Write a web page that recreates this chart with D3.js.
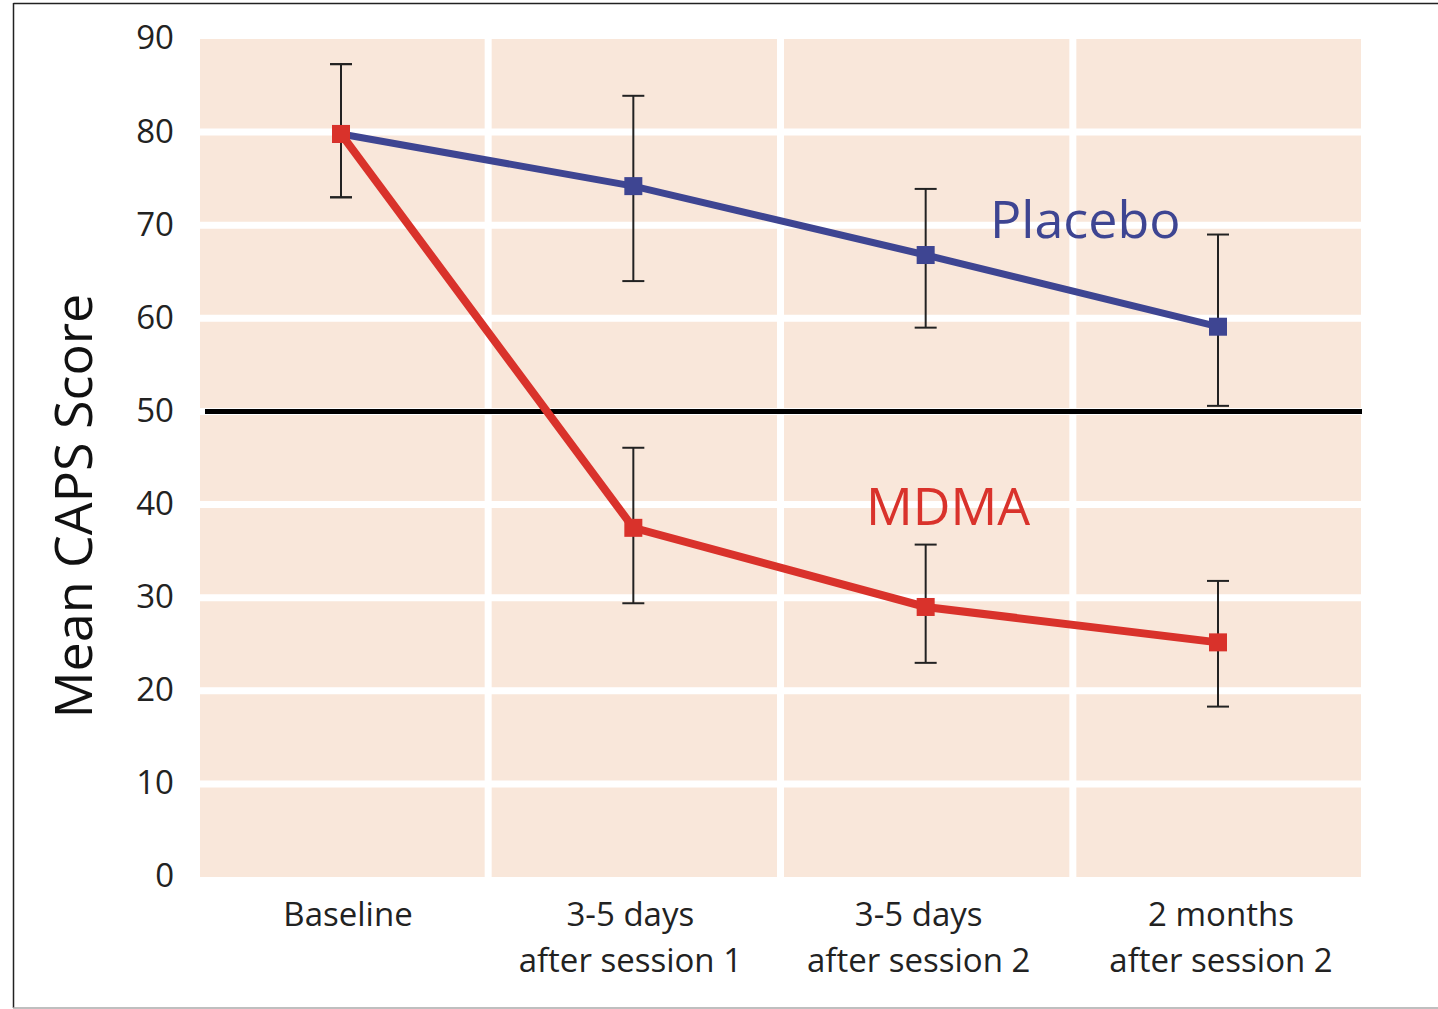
<!DOCTYPE html>
<html><head><meta charset="utf-8">
<script src="https://cdn.jsdelivr.net/npm/d3@7"></script>
<style>body{margin:0;background:#fff;} svg{display:block;}</style>
</head><body>
<svg id="c" width="1438" height="1009"></svg>
<script>
const categories = ["Baseline", "3-5 days|after session 1", "3-5 days|after session 2", "2 months|after session 2"];
const placebo = [79.8, 74.2, 66.8, 59.1];
const placeboHi = [87.3, 83.9, 73.9, 69.0];
const placeboLo = [73.0, 64.0, 59.0, 50.6];
const mdma = [79.8, 37.5, 29.0, 25.2];
const mdmaHi = [87.3, 46.1, 35.7, 31.8];
const mdmaLo = [73.0, 29.4, 23.0, 18.3];
const yTicks = [0, 10, 20, 30, 40, 50, 60, 70, 80, 90];
const threshold = 50;

const svg = d3.select("#c");
const font = "'Open Sans', 'Noto Sans', sans-serif";
const plotL = 200, plotR = 1361, plotT = 39, plotB = 877;

// frame
svg.append("line").attr("x1", 13.5).attr("x2", 1438).attr("y1", 3.5).attr("y2", 3.5).attr("stroke", "#222").attr("stroke-width", 1.5);
svg.append("line").attr("x1", 13.5).attr("x2", 13.5).attr("y1", 3).attr("y2", 1008).attr("stroke", "#222").attr("stroke-width", 1.5);
svg.append("line").attr("x1", 13).attr("x2", 1438).attr("y1", 1008).attr("y2", 1008).attr("stroke", "#aaa").attr("stroke-width", 1.5);

const y = d3.scaleLinear().domain([0, 90]).range([plotB, plotT]);
const x = d3.scalePoint().domain(categories).range([341, 1218]);
const step = x.step();

// background
svg.append("rect").attr("x", plotL).attr("y", plotT).attr("width", plotR - plotL).attr("height", plotB - plotT).attr("fill", "#f9e7da");

// horizontal white gridlines
svg.append("g").selectAll("line").data(yTicks.filter(t => t > 0 && t < 90)).join("line")
  .attr("x1", plotL).attr("x2", plotR).attr("y1", d => y(d)).attr("y2", d => y(d))
  .attr("stroke", "#fff").attr("stroke-width", 7);
// vertical separators
svg.append("g").selectAll("line").data(categories.slice(1)).join("line")
  .attr("x1", d => x(d) - step / 2 + 1).attr("x2", d => x(d) - step / 2 + 1)
  .attr("y1", plotT).attr("y2", plotB)
  .attr("stroke", "#fff").attr("stroke-width", 7);

// y axis labels
const yAxis = d3.axisLeft(y).tickValues(yTicks).tickSize(0).tickPadding(0);
const ya = svg.append("g").attr("transform", "translate(174,0)").call(yAxis);
ya.select(".domain").remove();
ya.selectAll("text").attr("font-family", font).attr("font-size", 33).attr("fill", "#222").attr("dy", "0.3em");

// y title
svg.append("text").attr("transform", "translate(92,506) rotate(-90)").attr("text-anchor", "middle")
  .attr("font-family", font).attr("font-size", 52).attr("fill", "#111").text("Mean CAPS Score");

// x labels
const labelShift = [7, -3, -7, 3];
const xl = svg.append("g").selectAll("text").data(categories).join("text")
  .attr("text-anchor", "middle").attr("font-family", font).attr("font-size", 33).attr("fill", "#222")
  .attr("transform", (d, i) => `translate(${x(d) + labelShift[i]},0)`);
xl.each(function(d) {
  const parts = d.split("|");
  const t = d3.select(this);
  parts.forEach((p, j) => t.append("tspan").attr("x", 0).attr("y", 926 + j * 46).text(p));
});

// threshold line
svg.append("line").attr("x1", 205).attr("x2", 1362).attr("y1", y(threshold)).attr("y2", y(threshold))
  .attr("stroke", "#000").attr("stroke-width", 5);

function errorBars(hi, lo) {
  const g = svg.append("g").attr("stroke", "#222").attr("stroke-width", 2);
  categories.forEach((c, i) => {
    g.append("line").attr("x1", x(c)).attr("x2", x(c)).attr("y1", y(hi[i])).attr("y2", y(lo[i]));
    g.append("line").attr("x1", x(c) - 11).attr("x2", x(c) + 11).attr("y1", y(hi[i])).attr("y2", y(hi[i]));
    g.append("line").attr("x1", x(c) - 11).attr("x2", x(c) + 11).attr("y1", y(lo[i])).attr("y2", y(lo[i]));
  });
}
errorBars(placeboHi, placeboLo);
errorBars(mdmaHi, mdmaLo);

function series(vals, color, w) {
  const line = d3.line().x((d, i) => x(categories[i])).y(d => y(d));
  svg.append("path").datum(vals).attr("d", line).attr("fill", "none").attr("stroke", color).attr("stroke-width", w);
  svg.append("g").selectAll("rect").data(vals).join("rect")
    .attr("x", (d, i) => x(categories[i]) - 9).attr("y", d => y(d) - 9)
    .attr("width", 18).attr("height", 18).attr("fill", color);
}
series(placebo, "#3e4592", 7);
series(mdma, "#d9322b", 8);

svg.append("text").attr("x", 990).attr("y", 238).attr("font-family", font).attr("font-size", 52).attr("fill", "#3e4592").text("Placebo");
svg.append("text").attr("x", 866).attr("y", 525).attr("font-family", font).attr("font-size", 52).attr("fill", "#d9322b").text("MDMA");
</script>
</body></html>
